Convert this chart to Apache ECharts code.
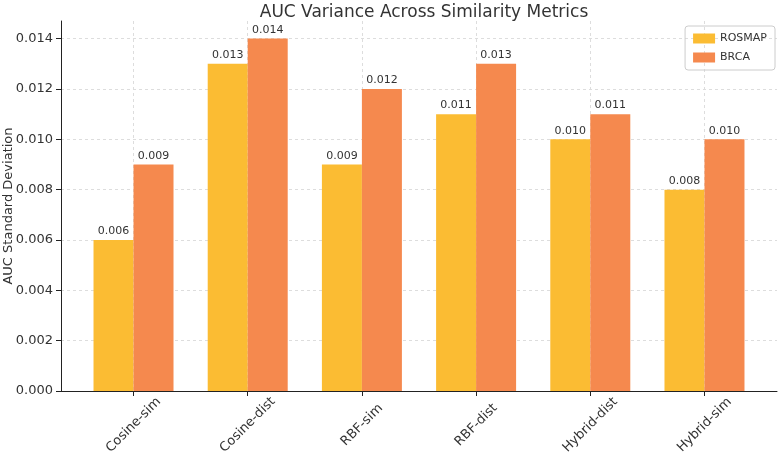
<!DOCTYPE html>
<html>
<head>
<meta charset="utf-8">
<script src="https://cdn.jsdelivr.net/npm/echarts@6/dist/echarts.min.js"></script>
<style>
  html, body { margin: 0; padding: 0; background: #fff; }
  #chart { width: 779px; height: 456px; }
</style>
</head>
<body>
<div id="chart"></div>
<script>
const categories = ['Cosine-sim', 'Cosine-dist', 'RBF-sim', 'RBF-dist', 'Hybrid-dist', 'Hybrid-sim'];
const rosmap = [0.006, 0.013, 0.009, 0.011, 0.010, 0.008];
const brca = [0.009, 0.014, 0.012, 0.013, 0.011, 0.010];
const yTicks = [0, 0.002, 0.004, 0.006, 0.008, 0.010, 0.012, 0.014];

const colors = ['#FBBC33', '#F5894E'];
const positions = categories.map((c, i) => i);

const chart = echarts.init(document.getElementById('chart'));

const labelOpt = {
  show: true,
  position: 'top',
  distance: 3,
  color: '#333',
  fontSize: 11,
  fontFamily: 'DejaVu Sans',
  formatter: p => p.value[1].toFixed(3)
};

const option = {
  animation: false,
  color: colors,
  textStyle: { fontFamily: 'DejaVu Sans' },
  title: {
    text: 'AUC Variance Across Similarity Metrics',
    left: 419,
    textAlign: 'center',
    top: -1,
    textStyle: { fontSize: 17, fontWeight: 'normal', color: '#333', fontFamily: 'DejaVu Sans' }
  },
  legend: {
    data: ['ROSMAP', 'BRCA'],
    orient: 'vertical',
    right: 4,
    top: 26,
    itemWidth: 22,
    itemHeight: 10,
    itemGap: 8,
    padding: [7, 8, 7, 8],
    borderColor: '#ccc',
    borderWidth: 1,
    borderRadius: 3,
    icon: 'rect',
    textStyle: { fontSize: 11, color: '#333' }
  },
  grid: { left: 61, right: 2, top: 21, bottom: 65, outerBoundsMode: 'none', containLabel: false },
  xAxis: {
    type: 'value',
    min: -0.635,
    max: 5.635,
    axisLine: { show: true, onZero: false, lineStyle: { color: '#222', width: 1 } },
    axisTick: { show: true, length: 5, customValues: positions, lineStyle: { color: '#222' } },
    axisLabel: {
      customValues: positions,
      rotate: 45,
      align: 'center',
      verticalAlign: 'middle',
      fontSize: 13,
      color: '#333',
      margin: 34,
      formatter: v => categories[Math.round(v)]
    },
    splitLine: { show: true, lineStyle: { color: '#ddd', type: [3, 3] } }
  },
  yAxis: {
    type: 'value',
    min: 0,
    max: 0.0147,
    name: 'AUC Standard Deviation',
    nameLocation: 'middle',
    nameGap: 46,
    nameMoveOverlap: false,
    nameTextStyle: { fontSize: 13, color: '#333' },
    axisLine: { show: true, onZero: false, lineStyle: { color: '#222', width: 1 } },
    axisTick: { show: true, length: 5, customValues: yTicks, lineStyle: { color: '#222' } },
    axisLabel: {
      customValues: yTicks,
      fontSize: 13,
      color: '#333',
      margin: 8,
      formatter: v => v.toFixed(3)
    },
    splitLine: { show: true, lineStyle: { color: '#ddd', type: [3, 3] } }
  },
  series: [
    {
      name: 'ROSMAP',
      type: 'bar',
      barWidth: 40,
      barGap: '0%',
      data: rosmap.map((v, i) => [positions[i], v]),
      label: labelOpt
    },
    {
      name: 'BRCA',
      type: 'bar',
      barWidth: 40,
      barGap: '0%',
      data: brca.map((v, i) => [positions[i], v]),
      label: labelOpt
    }
  ]
};

chart.setOption(option);
window.addEventListener('resize', function () {
  chart.resize();
});
</script>
</body>
</html>
